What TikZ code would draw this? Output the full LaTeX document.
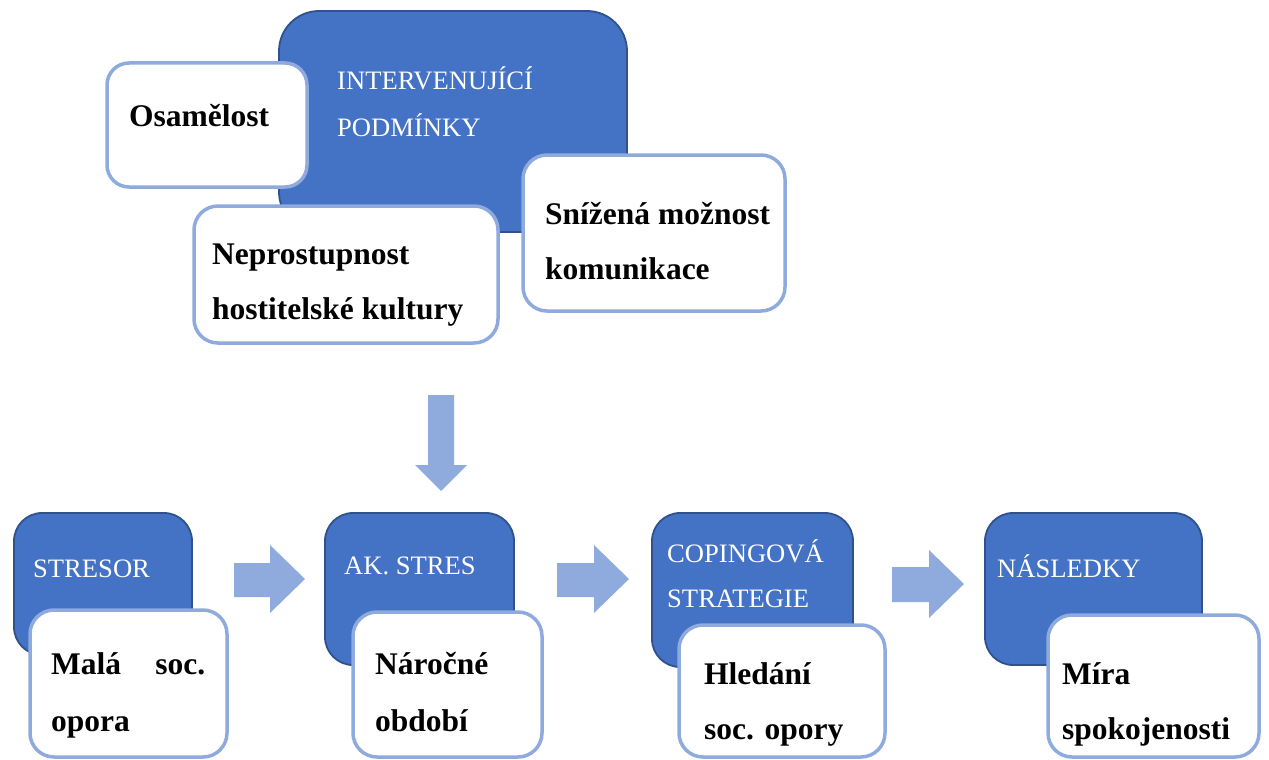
\documentclass[tikz,border=0pt]{standalone}
\usepackage{fontspec}
\setmainfont{Liberation Serif}
\definecolor{accent}{HTML}{4472C4}
\definecolor{accentline}{HTML}{2F528F}
\definecolor{pale}{HTML}{8FAADC}
\tikzset{
  catbox/.style={draw=accentline, fill=accent, line width=1.8pt, rounded corners=#1,
    inner sep=0pt, outer sep=0pt, anchor=north west},
  itembox/.style={draw=pale, fill=white, line width=3.5pt, rounded corners=#1,
    inner sep=0pt, outer sep=0pt, anchor=north west},
  cattext/.style={text=white, inner sep=0pt, anchor=base west,
    font=\fontsize{26.6}{30}\selectfont},
  itemtext/.style={text=black, inner sep=0pt, anchor=base west,
    font=\fontsize{31.5}{36}\selectfont\bfseries},
  flowarrow/.style={fill=pale, draw=none}
}
\begin{document}
\begin{tikzpicture}[x=1pt, y=-1pt]
\useasboundingbox (0,0) rectangle (1269,760);

% --- intervening conditions (top group) ---
\node[catbox=40pt, minimum width=348pt, minimum height=221pt] (interv) at (279,11) {};
\node[cattext] (intervA) at (337,89) {INTERVENUJÍCÍ};
\node[cattext] (intervB) at (337,136) {PODMÍNKY};

\node[itembox=22pt, minimum width=200pt, minimum height=124pt] (osam) at (107,63) {};
\node[itemtext] (osamT) at (129,126) {Osamělost};

\node[itembox=24pt, minimum width=304pt, minimum height=137pt] (neprost) at (194,206) {};
\node[itemtext] (neprostA) at (212,264) {Neprostupnost};
\node[itemtext] (neprostB) at (212,319) {hostitelské kultury};

\node[itembox=24pt, minimum width=262pt, minimum height=156pt] (snizena) at (523,155) {};
\node[itemtext] (snizenaA) at (545,224) {Snížená možnost};
\node[itemtext] (snizenaB) at (545,279) {komunikace};

% --- downward block arrow into the process row ---
\coordinate (dn) at (441,395);
\fill[flowarrow] (dn) ++(-13,0) -- ++(26,0) -- ++(0,70) -- ++(13,0)
  -- (441,491) -- (415,465) -- ++(13,0) -- cycle;

% --- process row ---
\node[catbox=28pt, minimum width=178pt, minimum height=142pt] (stresor) at (14,513) {};
\node[cattext] (stresorT) at (33,577) {STRESOR};
\node[itembox=24pt, minimum width=197pt, minimum height=147pt] (mala) at (30,610) {};
\node[itemtext] (malaA) at (51,674) {\hbox to 154pt{Malá\hfil soc.}};
\node[itemtext] (malaB) at (51,731) {opora};

\node[catbox=28pt, minimum width=189pt, minimum height=152pt] (akstres) at (325,513) {};
\node[cattext] (akstresT) at (344,574) {AK. STRES};
\node[itembox=24pt, minimum width=189pt, minimum height=145pt] (narocne) at (353,612) {};
\node[itemtext] (narocneA) at (375,674) {Náročné};
\node[itemtext] (narocneB) at (375,731) {období};

\node[catbox=28pt, minimum width=201pt, minimum height=154pt] (coping) at (652,513) {};
\node[cattext] (copingA) at (667,562) {COPINGOVÁ};
\node[cattext] (copingB) at (667,607) {STRATEGIE};
\node[itembox=24pt, minimum width=206pt, minimum height=132pt] (hledani) at (679,625) {};
\node[itemtext] (hledaniA) at (704,684) {Hledání};
\node[itemtext] (hledaniB) at (704,739) {soc. opory};

\node[catbox=28pt, minimum width=217pt, minimum height=152pt] (nasledky) at (985,513) {};
\node[cattext] (nasledkyT) at (997,577) {NÁSLEDKY};
\node[itembox=24pt, minimum width=211pt, minimum height=142pt] (mira) at (1048,615) {};
\node[itemtext] (miraA) at (1062,684) {Míra};
\node[itemtext] (miraB) at (1062,739) {spokojenosti};

% --- horizontal block arrows between stages ---
\fill[flowarrow] (234,563) -- (270,563) -- (270,545) -- (305,579) -- (270,613)
  -- (270,597) -- (234,597) -- cycle;
\fill[flowarrow] (557,563) -- (594,563) -- (594,545) -- (629,579) -- (594,613)
  -- (594,597) -- (557,597) -- cycle;
\fill[flowarrow] (892,567) -- (929,567) -- (929,550) -- (964,584) -- (929,618)
  -- (929,602) -- (892,602) -- cycle;
\end{tikzpicture}
\end{document}
